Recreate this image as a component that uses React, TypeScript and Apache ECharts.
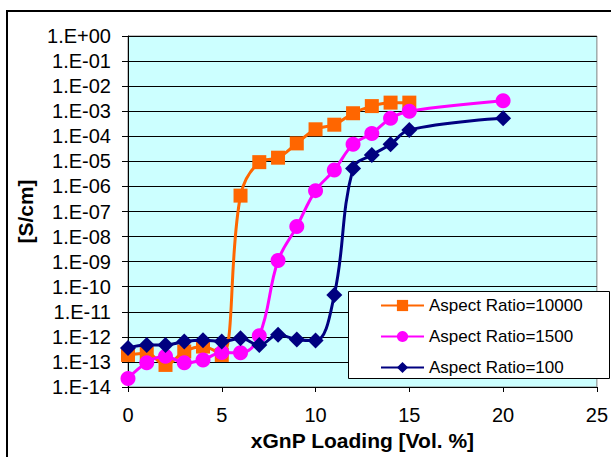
import React, { useEffect, useRef } from "react";
import * as echarts from "echarts";

const loadingA = [0, 1, 2, 3, 4, 5, 6, 7, 8, 9, 10, 11, 12, 13, 14, 15];
const ratio10000 = [1.9e-13, 2.2e-13, 7.6e-14, 2.6e-13, 4.1e-13, 1.9e-13, 4.3e-7, 9.3e-6, 1.4e-5, 5.2e-5, 1.9e-4, 2.9e-4, 8.3e-4, 1.6e-3, 2.2e-3, 2.2e-3];

const loadingB = [0, 1, 2, 3, 4, 5, 6, 7, 8, 9, 10, 11, 12, 13, 14, 15, 20];
const ratio1500 = [2.2e-14, 9.3e-14, 1.7e-13, 9.3e-14, 1.2e-13, 2.4e-13, 2.3e-13, 1.1e-12, 1.1e-9, 2.5e-8, 6.8e-7, 4.5e-6, 4.8e-5, 1.3e-4, 5.2e-4, 1.0e-3, 2.6e-3];

const loadingC = [0, 1, 2, 3, 4, 5, 6, 7, 8, 9, 10, 11, 12, 13, 14, 15, 20];
const ratio100 = [3.6e-13, 4.7e-13, 4.7e-13, 6.5e-13, 7.4e-13, 6.5e-13, 8.7e-13, 4.7e-13, 1.2e-12, 7.9e-13, 7.1e-13, 4.7e-11, 5.2e-6, 1.8e-5, 4.8e-5, 1.8e-4, 5.2e-4];

const seriesNames = ["Aspect Ratio=10000", "Aspect Ratio=1500", "Aspect Ratio=100"];
const xTitle = "xGnP Loading [Vol. %]";
const yTitle = "[S/cm]";

const FONT = "'Liberation Sans', Arial, sans-serif";

function fmtExp(v: number): string {
  const e = Math.round(Math.log10(v));
  const sign = e < 0 ? "-" : "+";
  const a = Math.abs(e);
  return "1.E" + sign + (a < 10 ? "0" + a : String(a));
}

function pairs(xs: number[], ys: number[]) {
  return xs.map((x, i) => [x, ys[i]]);
}

export default function App() {
  const ref = useRef<HTMLDivElement>(null);
  useEffect(() => {
    if (!ref.current) return;
    const chart = echarts.init(ref.current, null, { renderer: "svg" });
    chart.setOption({
      animation: false,
      backgroundColor: "#ffffff",
      textStyle: { fontFamily: FONT },
      grid: {
        left: 128,
        right: 12,
        top: 36,
        bottom: 70,
        show: true,
        backgroundColor: "#CCFFFF",
        borderColor: "#808080",
        borderWidth: 1,
      },
      graphic: [
        {
          type: "rect",
          shape: { x: 7, y: 11, width: 640, height: 480 },
          style: { fill: "none", stroke: "#000", lineWidth: 2 },
          z: 0,
          silent: true,
        },
        {
          type: "rect",
          shape: { x: 348.5, y: 291.5, width: 261, height: 87 },
          style: { fill: "#ffffff", stroke: "#000", lineWidth: 1 },
          z: 20,
          silent: true,
        },
      ],
      legend: {
        orient: "vertical",
        left: 380,
        top: 297,
        itemWidth: 43,
        itemHeight: 14,
        itemGap: 14,
        padding: 0,
        z: 30,
        textStyle: { fontSize: 17, color: "#000", fontFamily: FONT, padding: [0, 0, 0, 0] },
        data: seriesNames,
      },
      xAxis: {
        type: "value",
        min: 0,
        max: 25,
        interval: 5,
        name: xTitle,
        nameLocation: "middle",
        nameGap: 43,
        nameTextStyle: { fontSize: 21, fontWeight: "bold", color: "#000", fontFamily: FONT },
        axisLine: { lineStyle: { color: "#000", width: 1 } },
        axisTick: { show: true, inside: false, length: 5, lineStyle: { color: "#000" } },
        axisLabel: { fontSize: 20, color: "#000", margin: 18, fontFamily: FONT },
        splitLine: { show: false },
      },
      yAxis: {
        type: "log",
        logBase: 10,
        min: 1e-14,
        max: 1,
        interval: 1,
        splitNumber: 14,
        name: yTitle,
        nameLocation: "middle",
        nameGap: 88,
        nameTextStyle: { fontSize: 21, fontWeight: "bold", color: "#000", fontFamily: FONT },
        axisLine: { show: true, lineStyle: { color: "#000", width: 1 } },
        axisTick: { show: true, inside: false, length: 6, lineStyle: { color: "#000" } },
        axisLabel: { fontSize: 20, color: "#000", margin: 17, fontFamily: FONT, formatter: (v: number) => fmtExp(v) },
        splitLine: { show: true, lineStyle: { color: "#000", width: 1 } },
        minorTick: { show: false },
      },
      series: [
        {
          name: seriesNames[0],
          type: "line",
          data: pairs(loadingA, ratio10000),
          smooth: 0.4,
          symbol: "rect",
          symbolSize: 14,
          color: "#FF6600",
          lineStyle: { color: "#FF6600", width: 3 },
          itemStyle: { color: "#FF6600" },
          z: 3,
        },
        {
          name: seriesNames[1],
          type: "line",
          data: pairs(loadingB, ratio1500),
          smooth: 0.4,
          symbol: "circle",
          symbolSize: 15,
          color: "#FF00FF",
          lineStyle: { color: "#FF00FF", width: 3 },
          itemStyle: { color: "#FF00FF" },
          z: 4,
        },
        {
          name: seriesNames[2],
          type: "line",
          data: pairs(loadingC, ratio100),
          smooth: 0.4,
          symbol: "diamond",
          symbolSize: 16,
          color: "#000080",
          lineStyle: { color: "#000080", width: 3 },
          itemStyle: { color: "#000080" },
          z: 5,
        },
      ],
    });
    return () => chart.dispose();
  }, []);
  return (
    <div
      ref={ref}
      style={{ position: "fixed", left: 0, top: 0, width: 611, height: 457 }}
    />
  );
}
